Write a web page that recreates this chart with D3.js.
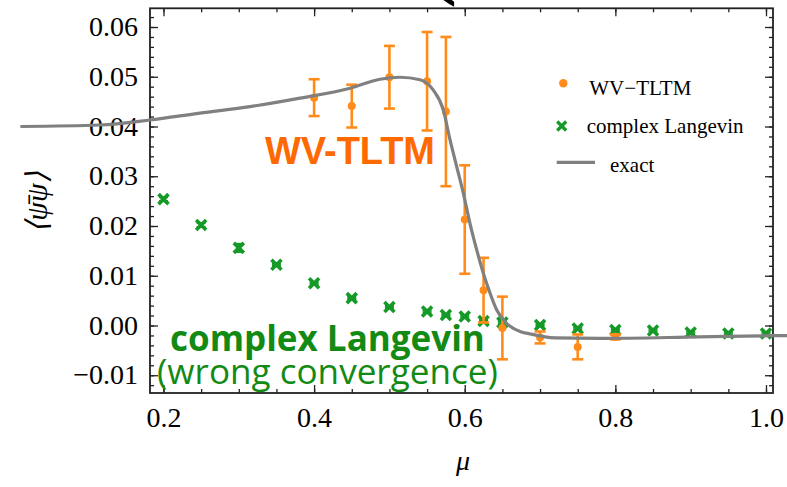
<!DOCTYPE html>
<html><head><meta charset="utf-8">
<script src="https://cdn.jsdelivr.net/npm/d3@7"></script>
<style>
html,body{margin:0;padding:0;background:#fff;}
svg{display:block;}
</style></head>
<body>
<svg id="chart" width="787" height="487"></svg>
<script>
// ---- data ----
const xTicksMajor = [0.2, 0.4, 0.6, 0.8, 1.0];
const yTicksMajor = [-0.01, 0.00, 0.01, 0.02, 0.03, 0.04, 0.05, 0.06];

const wvMu  = [0.40, 0.45, 0.50, 0.55, 0.575, 0.60, 0.625, 0.65, 0.70, 0.75, 0.80];
const wvVal = [0.0458, 0.0441, 0.0499, 0.0491, 0.0430, 0.0213, 0.0071, -0.0005, -0.0024, -0.0043, -0.0023];
const wvErr = [0.0037, 0.0043, 0.0063, 0.0099, 0.0150, 0.0109, 0.0065, 0.0063, 0.0012, 0.0025, 0.0005];

const clMu  = [0.20, 0.25, 0.30, 0.35, 0.40, 0.45, 0.50, 0.55, 0.575, 0.60, 0.625, 0.65, 0.70, 0.75, 0.80, 0.85, 0.90, 0.95, 1.00];
const clVal = [0.0254, 0.0202, 0.0156, 0.0122, 0.0085, 0.0055, 0.0037, 0.0028, 0.0021, 0.0018, 0.0009, 0.0006, 0.0001, -0.0006, -0.0009, -0.0010, -0.0014, -0.0016, -0.0016];
const clErr = [0.0004, 0.0004, 0.0008, 0.0002, 0.0002, 0.0002, 0.0002, 0.0002, 0.0002, 0.0002, 0.0002, 0.0002, 0.0002, 0.0002, 0.0002, 0.0002, 0.0002, 0.0002, 0.0002];

const exMu  = [0.01, 0.1157, 0.182, 0.2485, 0.3149, 0.3813, 0.4477, 0.4875, 0.514, 0.5406, 0.5583, 0.5716, 0.5805, 0.5894, 0.5981, 0.607, 0.6159, 0.6247, 0.6336, 0.6425, 0.6558, 0.6734, 0.6867, 0.72, 0.78, 0.91, 1.005, 1.04];
const exVal = [0.0400, 0.0403, 0.0413, 0.0427, 0.0440, 0.0457, 0.0477, 0.0495, 0.0499, 0.0494, 0.0473, 0.0433, 0.0373, 0.0319, 0.0266, 0.0205, 0.0152, 0.0105, 0.0065, 0.0031, 0.0004, -0.0012, -0.0017, -0.0025, -0.0026, -0.0023, -0.00205, -0.0020];

const legendLabels = ["WV\u2212TLTM", "complex Langevin", "exact"];

// ---- layout ----
const svg = d3.select("#chart");
const L = 150, R = 773, T = 8.3, B = 393;
const x = d3.scaleLinear().domain([0.1821, 1.0093]).range([L, R]);
const y = d3.scaleLinear().domain([-0.01357, 0.06376]).range([B, T]);

const ORANGE = "#ff8c1a", ORANGE_TXT = "#ff6a00";
const GREEN = "#159a28", GREEN_TXT = "#138a13";
const GRAY = "#808080";
const serif = "'Liberation Serif','Times New Roman',serif";

// cut-off glyph at top
svg.append("text").attr("x", 418).attr("y", -19).attr("font-family", serif)
  .attr("font-size", 120).attr("fill", "#000").text("(");

// minor & major ticks on all four sides
const xMinor = d3.range(0.2, 1.0001, 0.05);
const yMinor = d3.range(-0.012, 0.0631, 0.002);
function noLab(){ return ""; }
const gAx = svg.append("g");
gAx.append("g").attr("transform", `translate(0,${B})`).call(d3.axisBottom(x).tickValues(xMinor).tickSize(-4).tickFormat(noLab));
gAx.append("g").attr("transform", `translate(0,${T})`).call(d3.axisTop(x).tickValues(xMinor).tickSize(-4).tickFormat(noLab));
gAx.append("g").attr("transform", `translate(${L},0)`).call(d3.axisLeft(y).tickValues(yMinor).tickSize(-4).tickFormat(noLab));
gAx.append("g").attr("transform", `translate(${R},0)`).call(d3.axisRight(y).tickValues(yMinor).tickSize(-4).tickFormat(noLab));

const xb = gAx.append("g").attr("transform", `translate(0,${B})`)
  .call(d3.axisBottom(x).tickValues(xTicksMajor).tickSize(-8).tickPadding(14).tickFormat(d3.format(".1f")));
gAx.append("g").attr("transform", `translate(0,${T})`).call(d3.axisTop(x).tickValues(xTicksMajor).tickSize(-8).tickFormat(noLab));
const yl = gAx.append("g").attr("transform", `translate(${L},0)`)
  .call(d3.axisLeft(y).tickValues(yTicksMajor).tickSize(-8).tickPadding(12).tickFormat(d => d3.format(".2f")(d).replace("-", "\u2212")));
gAx.append("g").attr("transform", `translate(${R},0)`).call(d3.axisRight(y).tickValues(yTicksMajor).tickSize(-8).tickFormat(noLab));

gAx.selectAll(".domain").remove();
gAx.selectAll("g").attr("font-family", serif).attr("font-size", 28);
gAx.selectAll(".tick line").attr("stroke", "#222").attr("stroke-width", 1.3);
gAx.selectAll(".tick text").attr("font-family", serif).attr("font-size", 28).attr("fill", "#000");
yl.selectAll("text").attr("dy", "0.31em");
xb.selectAll("text").attr("dy", "0.71em");

// frame
svg.append("rect").attr("x", L).attr("y", T).attr("width", R - L).attr("height", B - T)
  .attr("fill", "none").attr("stroke", "#222").attr("stroke-width", 1.8);

// complex Langevin markers (with small error bars)
const gCL = svg.append("g");
clMu.forEach((m, i) => {
  const cx = x(m), cy = y(clVal[i]);
  const y1 = y(clVal[i] + clErr[i]), y2 = y(clVal[i] - clErr[i]);
  gCL.append("line").attr("x1", cx).attr("x2", cx).attr("y1", y1).attr("y2", y2).attr("stroke", GREEN).attr("stroke-width", 2);
  [y1, y2].forEach(yy => gCL.append("line").attr("x1", cx - 4.5).attr("x2", cx + 4.5).attr("y1", yy).attr("y2", yy).attr("stroke", GREEN).attr("stroke-width", 2.2));
  const s = 5;
  gCL.append("path").attr("d", `M${cx - s},${cy - s}L${cx + s},${cy + s}M${cx - s},${cy + s}L${cx + s},${cy - s}`)
    .attr("stroke", GREEN).attr("stroke-width", 3.6).attr("fill", "none");
});

// WV-TLTM points with error bars
const gWV = svg.append("g");
wvMu.forEach((m, i) => {
  const cx = x(m), cy = y(wvVal[i]);
  const y1 = y(wvVal[i] + wvErr[i]), y2 = y(wvVal[i] - wvErr[i]);
  gWV.append("line").attr("x1", cx).attr("x2", cx).attr("y1", y1).attr("y2", y2).attr("stroke", ORANGE).attr("stroke-width", 2.6);
  [y1, y2].forEach(yy => gWV.append("line").attr("x1", cx - 5.5).attr("x2", cx + 5.5).attr("y1", yy).attr("y2", yy).attr("stroke", ORANGE).attr("stroke-width", 2.6));
  gWV.append("circle").attr("cx", cx).attr("cy", cy).attr("r", 4).attr("fill", ORANGE);
});

// exact curve (extends beyond the frame)
const line = d3.line().x((d, i) => x(exMu[i])).y((d, i) => y(exVal[i])).curve(d3.curveMonotoneX);
svg.append("path").attr("d", line(exMu)).attr("fill", "none").attr("stroke", GRAY).attr("stroke-width", 3.2);

// annotations
function fit(t, w) {
  const fs = +t.attr("font-size");
  const len = t.node().getComputedTextLength();
  t.attr("font-size", fs * w / len);
}
const a1 = svg.append("text").attr("x", 265).attr("y", 163.5).attr("font-family", "'Liberation Sans',Arial,sans-serif")
  .attr("font-weight", "bold").attr("font-size", 37).attr("fill", ORANGE_TXT).text("WV-TLTM");
fit(a1, 170);
const a2 = svg.append("text").attr("x", 170).attr("y", 351).attr("font-family", "'Open Sans','Noto Sans',sans-serif")
  .attr("font-weight", "bold").attr("font-size", 34).attr("fill", GREEN_TXT).text("complex Langevin");
fit(a2, 315);
const a3 = svg.append("text").attr("x", 157).attr("y", 384).attr("font-family", "'Open Sans','Noto Sans',sans-serif")
  .attr("font-size", 32).attr("fill", GREEN_TXT).text("(wrong convergence)");
fit(a3, 341);

// legend
const lg = svg.append("g");
lg.append("circle").attr("cx", 563.3).attr("cy", 83.3).attr("r", 4.2).attr("fill", ORANGE);
{
  const cx = 561.7, cy = 126, s = 4.5;
  lg.append("path").attr("d", `M${cx - s},${cy - s}L${cx + s},${cy + s}M${cx - s},${cy + s}L${cx + s},${cy - s}`)
    .attr("stroke", GREEN).attr("stroke-width", 3.2);
}
lg.append("line").attr("x1", 556.7).attr("x2", 595).attr("y1", 162.3).attr("y2", 162.3).attr("stroke", GRAY).attr("stroke-width", 3.2);
const lt = [[589.3, 95], [586.7, 133.3], [610, 171.7]];
legendLabels.forEach((s, i) => {
  lg.append("text").attr("x", lt[i][0]).attr("y", lt[i][1]).attr("font-family", serif)
    .attr("font-size", 21).attr("fill", "#000").text(s);
});

// axis titles
svg.append("text").attr("x", 463).attr("y", 470).attr("text-anchor", "middle").attr("font-family", serif)
  .attr("font-style", "italic").attr("font-size", 28).text("\u03bc");
svg.append("text").attr("transform", "translate(36,202) rotate(-90)").attr("text-anchor", "middle")
  .attr("dominant-baseline", "central").attr("font-family", serif).attr("font-style", "italic")
  .attr("font-size", 30).text("\u27e8\u03c8\u0304\u03c8\u27e9");
</script>
</body></html>
